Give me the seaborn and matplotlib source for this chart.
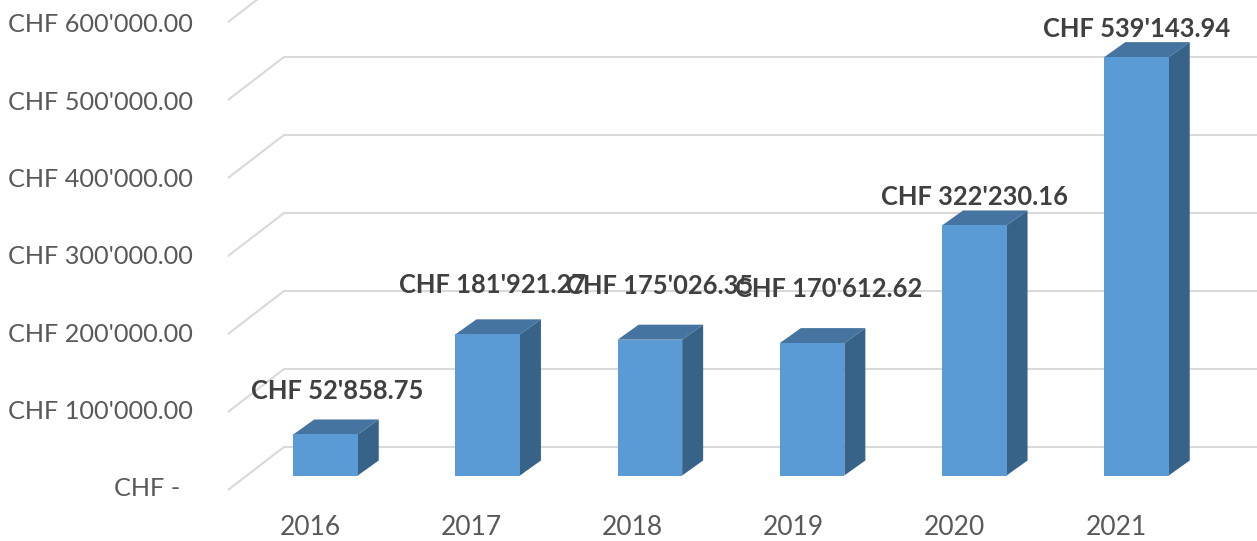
import numpy as np
import pandas as pd
import matplotlib.pyplot as plt
import seaborn as sns
from matplotlib.patches import Polygon

sns.set_theme(style="white")
plt.rcParams['font.family'] = ['Lato', 'DejaVu Sans']

years = ['2016', '2017', '2018', '2019', '2020', '2021']
totals = [52858.75, 181921.27, 175026.35, 170612.62, 322230.16, 539143.94]
bar_labels = ["CHF 52'858.75", "CHF 181'921.27", "CHF 175'026.35",
              "CHF 170'612.62", "CHF 322'230.16", "CHF 539'143.94"]
axis_values = [0, 100000, 200000, 300000, 400000, 500000, 600000]
axis_labels = ["CHF -  ", "CHF 100'000.00", "CHF 200'000.00", "CHF 300'000.00",
               "CHF 400'000.00", "CHF 500'000.00", "CHF 600'000.00"]

W, H = 1257, 541
TOP_C, SIDE_C, FRONT_C = '#4674A0', '#386388', '#5B9BD5'
GRID_C, AXIS_TXT, LABEL_TXT = '#D9D9D9', '#595959', '#404040'

fig = plt.figure(figsize=(W / 100, H / 100), dpi=100)
rect = [228 / W, 1 - 505 / H, (W - 228) / W, 505 / H]

# back wall, 78 px per 100k, front corner of 0 sits at y=490
wall = fig.add_axes(rect, zorder=1)
wall_scale = 78 / 100000
wall.set_ylim((490 - 505) / wall_scale, 490 / wall_scale)
wall.set_xlim(0, W - 228)
wall_dy = 43 / wall_scale
for v in axis_values:
    wall.plot([0, 56, W - 228], [v, v + wall_dy, v + wall_dy], color=GRID_C, lw=1.5, solid_joinstyle='miter')
wall.set_xticks([])
wall.set_yticks([])
sns.despine(ax=wall, left=True, bottom=True)

# y labels run a little tighter than the wall lines
lab = fig.add_axes(rect, zorder=1)
lab.patch.set_alpha(0)
lab_scale = 77.4 / 100000
lab.set_ylim((487 - 505) / lab_scale, 487 / lab_scale)
lab.set_yticks(axis_values, axis_labels)
lab.set_xticks([])
lab.tick_params(axis='y', length=0, pad=25, labelsize=18.2, labelcolor=AXIS_TXT)
sns.despine(ax=lab, left=True, bottom=True)

# bars
ax = fig.add_axes(rect, zorder=2)
ax.patch.set_alpha(0)
df = pd.DataFrame({'year': years, 'total': totals})
step = 162.2
sns.barplot(data=df, x='year', y='total', color=FRONT_C, saturation=1, width=64.5 / step,
            linewidth=0, edgecolor='none', ax=ax, zorder=3)
ax.set_xlim((228 - 325.5) / step, (W - 325.5) / step)
bar_scale = 77.6 / 100000
ax.set_ylim((475.5 - 505) / bar_scale, 475.5 / bar_scale)

# fake the depth
dx = 21 / step
dy = 15 / bar_scale
for bar in ax.patches[:len(years)]:
    x0, w, h = bar.get_x(), bar.get_width(), bar.get_height()
    ax.add_patch(Polygon([(x0, h), (x0 + w, h), (x0 + w + dx, h + dy), (x0 + dx, h + dy)], color=TOP_C, lw=0, zorder=2))
    ax.add_patch(Polygon([(x0 + w, 0), (x0 + w + dx, dy), (x0 + w + dx, h + dy), (x0 + w, h)], color=SIDE_C, lw=0, zorder=2))

# labels were moved around by hand in the original
label_shift = [(12, 43), (5, 49), (10, 54), (17, 54), (0, 28), (0, 28)]
for i, (txt, val) in enumerate(zip(bar_labels, totals)):
    ax.annotate(txt, (i, val), xytext=(label_shift[i][0] * 0.72, label_shift[i][1] * 0.72),
                textcoords='offset points', ha='center', va='center', fontsize=18.4,
                fontweight='bold', color=LABEL_TXT, zorder=5)

ax.set_xticks((310 + 161.2 * np.arange(len(years)) - 325.5) / step, years)
ax.set_yticks([])
ax.set_xlabel('')
ax.set_ylabel('')
ax.tick_params(axis='x', length=0, pad=7, labelsize=19, labelcolor=AXIS_TXT)
sns.despine(ax=ax, left=True, bottom=True)

fig.savefig('out.png', dpi=100)
